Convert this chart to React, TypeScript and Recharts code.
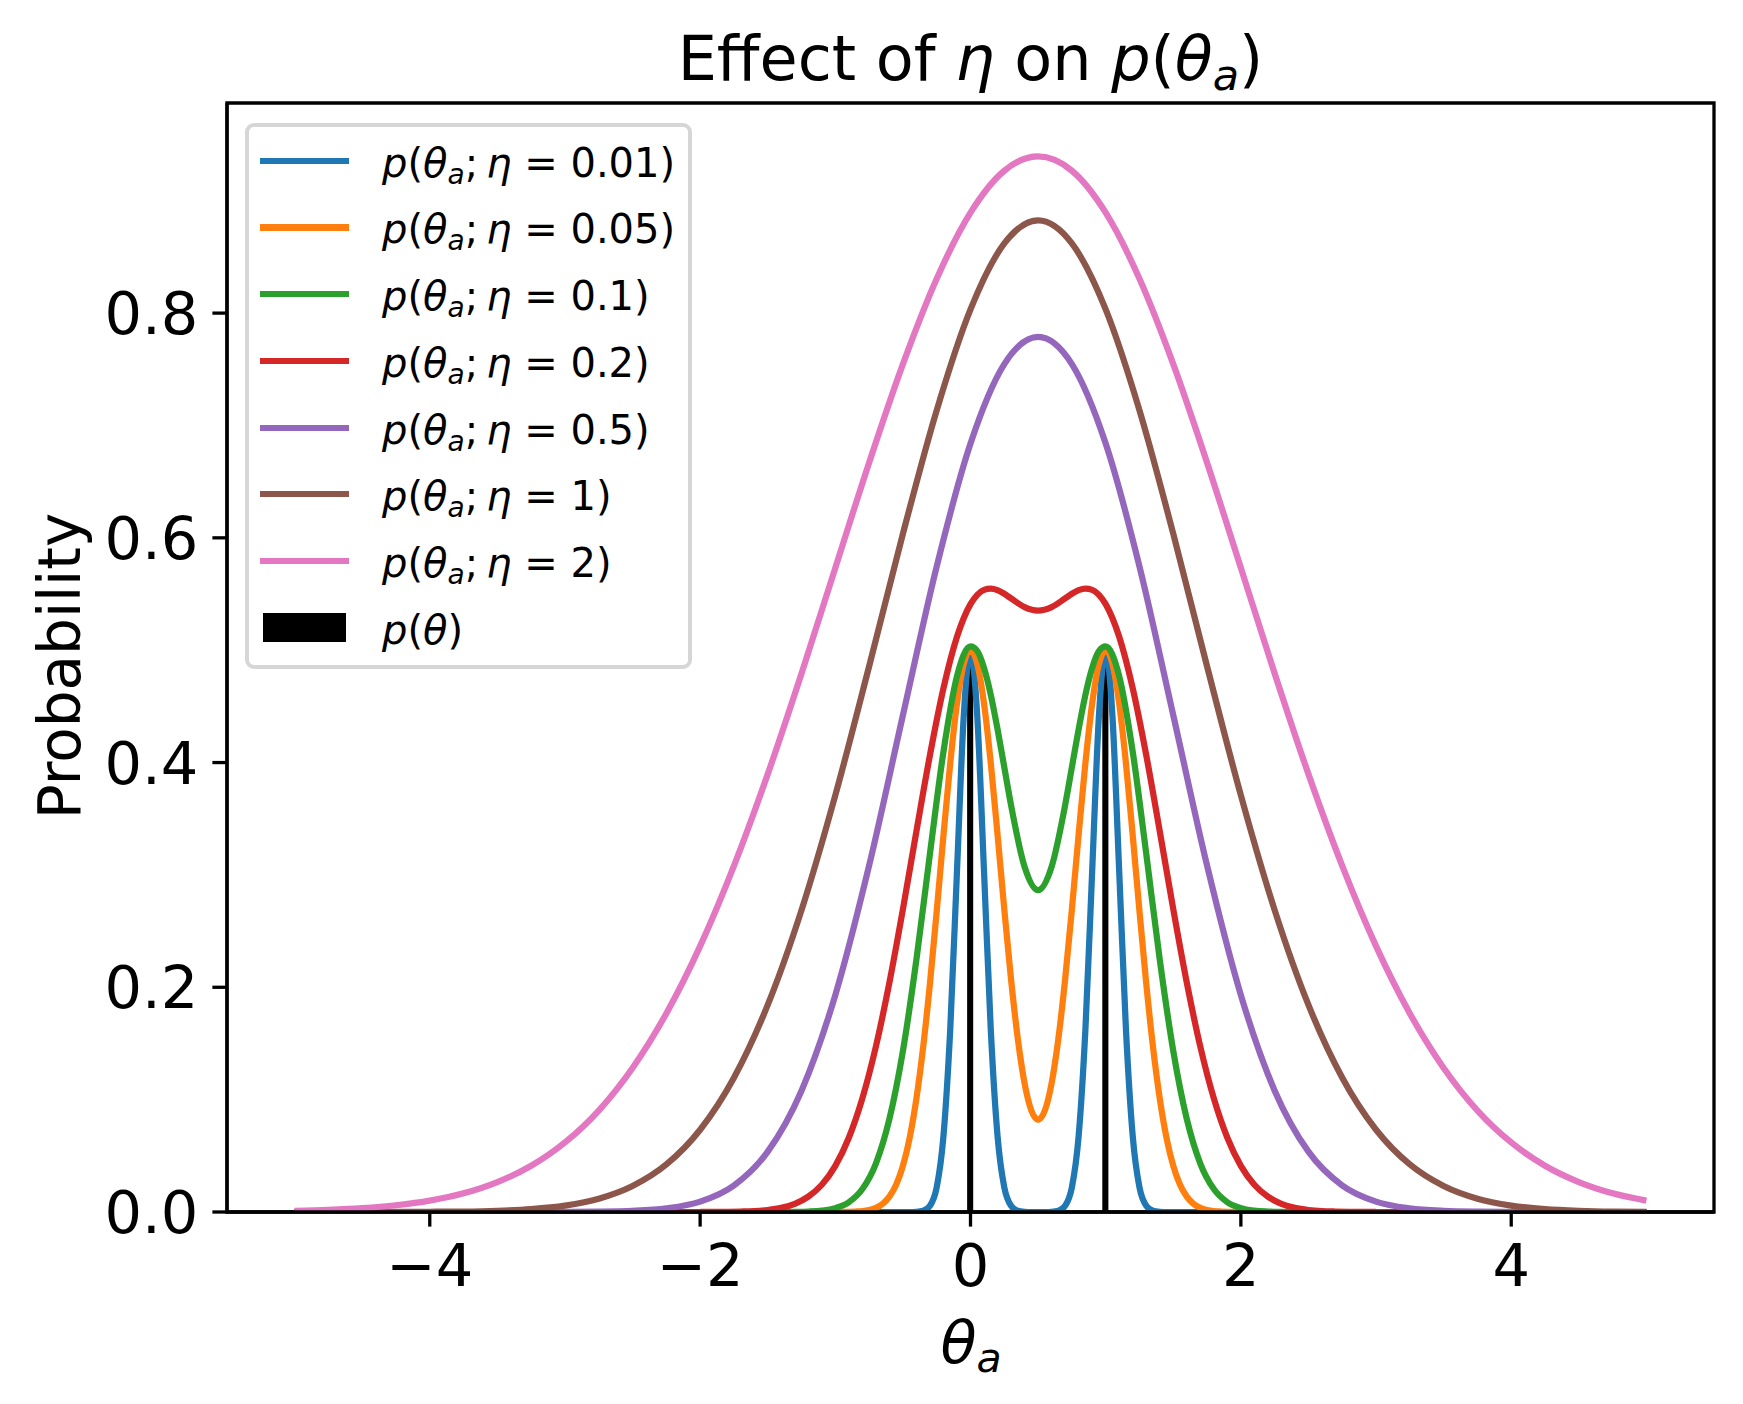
import {
  ComposedChart,
  Line,
  Bar,
  XAxis,
  YAxis,
  ReferenceArea,
  Legend,
} from "recharts";

const WIDTH = 1743;
const HEIGHT = 1404;
const FONT = "'DejaVu Sans', sans-serif";

const X_DOMAIN = [-5.5, 5.5];
const Y_DOMAIN = [0, 0.987];
const X_TICKS = [-4, -2, 0, 2, 4];
const Y_TICKS = [0, 0.2, 0.4, 0.6, 0.8];

const ETA_LABELS = ["0.01", "0.05", "0.1", "0.2", "0.5", "1", "2"];
const COLORS = ["#1f77b4", "#ff7f0e", "#2ca02c", "#d62728", "#9467bd", "#8c564b", "#e377c2"];

// p(theta): prior mass
const PRIOR_THETA = [0, 1];
const PRIOR_P = [0.5, 0.5];

// narrow curves (eta = 0.01, 0.05)
const X_NARROW = [
  -5, -1, -0.95, -0.9, -0.85, -0.8, -0.75, -0.7, -0.65, -0.6, -0.55, -0.5, -0.45, -0.4, -0.35, -0.3,
  -0.25, -0.2, -0.15, -0.1, -0.05, 0, 0.05, 0.1, 0.15, 0.2, 0.25, 0.3, 0.35, 0.4, 0.45, 0.5, 0.55,
  0.6, 0.65, 0.7, 0.75, 0.8, 0.85, 0.9, 0.95, 1, 1.05, 1.1, 1.15, 1.2, 1.25, 1.3, 1.35, 1.4, 1.45,
  1.5, 1.55, 1.6, 1.65, 1.7, 1.75, 1.8, 1.85, 1.9, 1.95, 2, 5,
];
const P_ETA_001 = [
  0, 0, 0, 0, 0, 0, 0, 0, 0, 0, 0, 0, 0,
  0.0002, 0.0011, 0.0056, 0.022, 0.0677, 0.1623, 0.3033, 0.4413, 0.5, 0.4413, 0.3033, 0.1623, 0.0677,
  0.022, 0.0056, 0.0011, 0.0002, 0, 0, 0, 0.0002, 0.0011, 0.0056, 0.022, 0.0677, 0.1623, 0.3033,
  0.4413, 0.5, 0.4413, 0.3033, 0.1623, 0.0677, 0.022, 0.0056, 0.0011, 0.0002,
  0, 0, 0, 0, 0, 0, 0, 0, 0, 0, 0, 0, 0,
];
const P_ETA_005 = [
  0, 0, 0.0001, 0.0002, 0.0004, 0.0008, 0.0018, 0.0037, 0.0073, 0.0137, 0.0243, 0.041, 0.066, 0.101,
  0.1469, 0.2033, 0.2676, 0.3352, 0.3993, 0.4524, 0.4877, 0.5, 0.4877, 0.4526, 0.3996, 0.336, 0.2694,
  0.207, 0.1542, 0.1146, 0.0903, 0.0821, 0.0903, 0.1146, 0.1542, 0.207, 0.2694, 0.336, 0.3996, 0.4526,
  0.4877, 0.5, 0.4877, 0.4524, 0.3993, 0.3352, 0.2676, 0.2033, 0.1469, 0.101, 0.066, 0.041, 0.0243,
  0.0137, 0.0073, 0.0037, 0.0018, 0.0008, 0.0004, 0.0002, 0.0001, 0, 0,
];

// middle curves (eta = 0.1, 0.2)
const X_MID = [
  -5, -3, -2, -1.9, -1.8, -1.7, -1.6, -1.5, -1.4, -1.3, -1.2, -1.1, -1, -0.9, -0.8, -0.7, -0.6, -0.5,
  -0.4, -0.3, -0.2, -0.1, 0, 0.05, 0.1, 0.15, 0.2, 0.25, 0.3, 0.4, 0.5, 0.6, 0.7, 0.75, 0.8, 0.85, 0.9,
  0.95, 1, 1.1, 1.2, 1.3, 1.4, 1.5, 1.6, 1.7, 1.8, 1.9, 2, 2.1, 2.2, 2.3, 2.4, 2.5, 2.6, 2.7, 2.8, 2.9,
  3, 4, 5,
];
const P_ETA_01 = [
  0, 0, 0, 0, 0, 0, 0, 0, 0, 0.0001, 0.0004, 0.0012, 0.0034, 0.0087, 0.0204, 0.0431, 0.0827, 0.1433,
  0.2247, 0.3189, 0.4097, 0.4768, 0.5034, 0.4993, 0.4843, 0.4603, 0.4297, 0.3958, 0.362, 0.3073,
  0.2865, 0.3073, 0.362, 0.3958, 0.4297, 0.4603, 0.4843, 0.4993, 0.5034, 0.4768, 0.4097, 0.3189,
  0.2247, 0.1433, 0.0827, 0.0431, 0.0204, 0.0087, 0.0034, 0.0012, 0.0004, 0.0001, 0, 0, 0, 0, 0, 0,
  0, 0, 0,
];
const P_ETA_02 = [
  0, 0, 0, 0.0001, 0.0002, 0.0004, 0.0008, 0.0018, 0.0037, 0.0073, 0.0137, 0.0243, 0.0411, 0.0661,
  0.1011, 0.1472, 0.2041, 0.2694, 0.3389, 0.4066, 0.4661, 0.5119, 0.541, 0.5493, 0.5537, 0.5548,
  0.5534, 0.5502, 0.5461, 0.5384, 0.5353, 0.5384, 0.5461, 0.5502, 0.5534, 0.5548, 0.5537, 0.5493,
  0.541, 0.5119, 0.4661, 0.4066, 0.3389, 0.2694, 0.2041, 0.1472, 0.1011, 0.0661, 0.0411, 0.0243,
  0.0137, 0.0073, 0.0037, 0.0018, 0.0008, 0.0004, 0.0002, 0.0001, 0, 0, 0,
];

// wide curves (eta = 0.5, 1, 2)
const X_WIDE = [
  -5, -4.75, -4.5, -4.25, -4, -3.75, -3.5, -3.25, -3, -2.75, -2.5, -2.25, -2, -1.75, -1.5, -1.25, -1,
  -0.75, -0.5, -0.25, 0, 0.25, 0.5, 0.75, 1, 1.25, 1.5, 1.75, 2, 2.25, 2.5, 2.75, 3, 3.25, 3.5, 3.75,
  4, 4.25, 4.5, 4.75, 5,
];
const P_ETA_05 = [
  0, 0, 0, 0, 0, 0, 0, 0, 0.0001, 0.0003, 0.001, 0.0032, 0.0092, 0.0236, 0.0537, 0.108, 0.1931,
  0.3083, 0.4421, 0.5745, 0.6839, 0.7546, 0.7788, 0.7546, 0.6839, 0.5745, 0.4421, 0.3083, 0.1931,
  0.108, 0.0537, 0.0236, 0.0092, 0.0032, 0.001, 0.0003, 0.0001, 0, 0, 0, 0,
];
const P_ETA_1 = [
  0, 0, 0, 0.0001, 0.0002, 0.0004, 0.0011, 0.0026, 0.0057, 0.0118, 0.0231, 0.0423, 0.0732, 0.1195,
  0.1843, 0.2687, 0.3709, 0.4856, 0.6036, 0.7135, 0.8033, 0.862, 0.8825, 0.862, 0.8033, 0.7135,
  0.6036, 0.4856, 0.3709, 0.2687, 0.1843, 0.1195, 0.0732, 0.0423, 0.0231, 0.0118, 0.0057, 0.0026,
  0.0011, 0.0004, 0.0002,
];
const P_ETA_2 = [
  0.001, 0.0019, 0.0034, 0.006, 0.0101, 0.0166, 0.0266, 0.0411, 0.0619, 0.0903, 0.1282, 0.1767,
  0.2366, 0.308, 0.3897, 0.4793, 0.5733, 0.6669, 0.7546, 0.8306, 0.8894, 0.9267, 0.9394, 0.9267,
  0.8894, 0.8306, 0.7546, 0.6669, 0.5733, 0.4793, 0.3897, 0.308, 0.2366, 0.1767, 0.1282, 0.0903,
  0.0619, 0.0411, 0.0266, 0.0166, 0.0101,
];

const SERIES = [
  { xs: X_NARROW, ys: P_ETA_001 },
  { xs: X_NARROW, ys: P_ETA_005 },
  { xs: X_MID, ys: P_ETA_01 },
  { xs: X_MID, ys: P_ETA_02 },
  { xs: X_WIDE, ys: P_ETA_05 },
  { xs: X_WIDE, ys: P_ETA_1 },
  { xs: X_WIDE, ys: P_ETA_2 },
];

const toPoints = (xs: number[], ys: number[]) => xs.map((x, i) => ({ x, y: ys[i] }));
const priorData = PRIOR_THETA.map((x, i) => ({ x, p: PRIOR_P[i] }));

const fmtX = (v: number) => (v < 0 ? `\u2212${-v}` : `${v}`);
const fmtY = (v: number) => v.toFixed(1);

// legend geometry (inside the border)
const ROW0 = 33.7;
const ROW_PITCH = 66.7;

function LegendLabel({ eta }: { eta: string | null }) {
  const sub = { fontStyle: "italic", fontSize: 28, position: "relative" as const, top: 7 };
  if (eta === null) {
    return (
      <span>
        <i>p</i>(<i>θ</i>)
      </span>
    );
  }
  return (
    <span>
      <i>p</i>(<i>θ</i>
      <span style={sub}>a</span>;{"\u2009"}
      <i>η</i>
      {" = "}
      {eta})
    </span>
  );
}

function LegendBox() {
  return (
    <div
      style={{
        position: "relative",
        width: 447,
        height: 546,
        boxSizing: "border-box",
        border: "4px solid #d6d6d6",
        borderRadius: 9,
        background: "#fff",
        fontFamily: FONT,
        color: "#000",
      }}
    >
      {ETA_LABELS.map((eta, i) => {
        const yc = ROW0 + ROW_PITCH * i;
        return (
          <div key={eta}>
            <div style={{ position: "absolute", left: 11, top: yc - 3, width: 89, height: 6.25, background: COLORS[i] }} />
            <div style={{ position: "absolute", left: 133, top: yc - 18, fontSize: 40, lineHeight: "40px", whiteSpace: "nowrap" }}>
              <LegendLabel eta={eta} />
            </div>
          </div>
        );
      })}
      <div
        style={{ position: "absolute", left: 14, top: ROW0 + ROW_PITCH * 7 - 14.5, width: 83, height: 29, background: "#000" }}
      />
      <div
        style={{ position: "absolute", left: 133, top: ROW0 + ROW_PITCH * 7 - 18, fontSize: 40, lineHeight: "40px", whiteSpace: "nowrap" }}
      >
        <LegendLabel eta={null} />
      </div>
    </div>
  );
}

export default function App() {
  const axisStroke = { stroke: "#000", strokeWidth: 3.3 };
  const tickStyle = { fill: "#000", fontSize: 59, fontFamily: FONT };
  return (
    <div style={{ position: "absolute", left: 0, top: 0, width: WIDTH, height: HEIGHT, background: "#fff" }}>
      <ComposedChart
        width={WIDTH}
        height={HEIGHT}
        data={priorData}
        margin={{ top: 103, right: 29, bottom: 0, left: 0 }}
      >
        <XAxis
          type="number"
          dataKey="x"
          domain={X_DOMAIN}
          ticks={X_TICKS}
          interval={0}
          allowDataOverflow
          height={192}
          tickFormatter={fmtX}
          tick={tickStyle}
          tickSize={14.6}
          tickMargin={18}
          axisLine={axisStroke}
          tickLine={axisStroke}
        />
        <YAxis
          type="number"
          domain={Y_DOMAIN}
          ticks={Y_TICKS}
          interval={0}
          allowDataOverflow
          width={227}
          tickFormatter={fmtY}
          tick={tickStyle}
          tickSize={14.6}
          tickMargin={14}
          axisLine={axisStroke}
          tickLine={axisStroke}
        />
        <Bar dataKey="p" fill="#000" barSize={7} isAnimationActive={false} />
        {SERIES.map((s, i) => (
          <Line
            key={ETA_LABELS[i]}
            data={toPoints(s.xs, s.ys)}
            dataKey="y"
            type="monotone"
            stroke={COLORS[i]}
            strokeWidth={6.25}
            dot={false}
            activeDot={false}
            isAnimationActive={false}
          />
        ))}
        <ReferenceArea
          x1={X_DOMAIN[0]}
          x2={X_DOMAIN[1]}
          y1={Y_DOMAIN[0]}
          y2={Y_DOMAIN[1]}
          fill="none"
          fillOpacity={0}
          stroke="#000"
          strokeWidth={3.3}
          ifOverflow="visible"
        />
        <Legend
          layout="vertical"
          align="center"
          verticalAlign="middle"
          content={() => <LegendBox />}
          wrapperStyle={{ left: 245, top: 123, width: 447, height: 546 }}
        />
      </ComposedChart>
      <svg
        width={WIDTH}
        height={HEIGHT}
        style={{ position: "absolute", left: 0, top: 0, pointerEvents: "none" }}
        fontFamily={FONT}
      >
        <text x={970.5} y={80} textAnchor="middle" fontSize={62} fill="#000">
          {"Effect of "}
          <tspan fontStyle="italic">η</tspan>
          {" on "}
          <tspan fontStyle="italic">p</tspan>
          {"("}
          <tspan fontStyle="italic">θ</tspan>
          <tspan fontStyle="italic" fontSize={43} dy={10}>a</tspan>
          <tspan dy={-10}>)</tspan>
        </text>
        <text x={971} y={1363} textAnchor="middle" fontSize={59} fill="#000">
          <tspan fontStyle="italic">θ</tspan>
          <tspan fontStyle="italic" fontSize={41} dy={9}>a</tspan>
        </text>
        <text transform="translate(80, 666) rotate(-90)" textAnchor="middle" fontSize={58} fill="#000">
          Probability
        </text>
      </svg>
    </div>
  );
}
